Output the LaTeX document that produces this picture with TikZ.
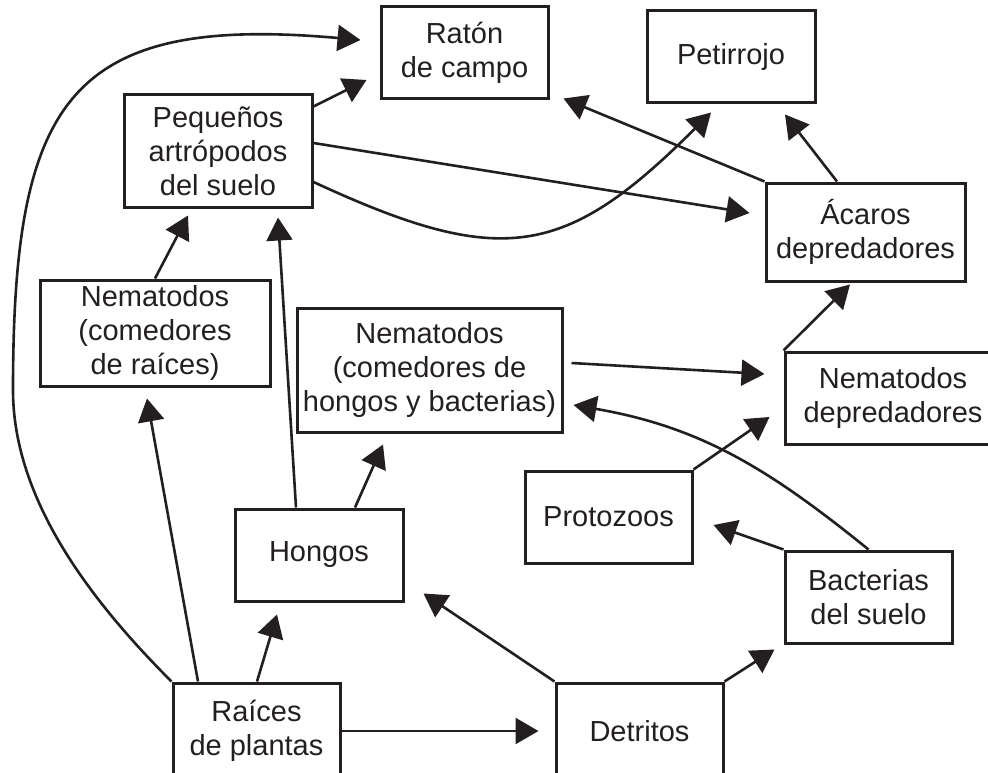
\documentclass[tikz,border=0pt]{standalone}
\usepackage{fontspec}
\setmainfont{Liberation Sans}
\usetikzlibrary{arrows.meta}
\definecolor{inkgray}{RGB}{35,31,32}

\begin{document}
\begin{tikzpicture}[
    x=1pt, y=-1pt,
    box/.style={rectangle, draw=inkgray, line width=3pt, align=center, inner sep=1pt, text=inkgray, font=\fontsize{29}{34}\selectfont},
    arrow/.style={-{Triangle[length=23pt,width=26pt]}, draw=inkgray, line width=2.6pt}
]
    \useasboundingbox (0,0) rectangle (988,773);
    \clip (0,0) rectangle (988,773);
    \node[box, minimum width=167pt, minimum height=92pt] (raton) at (464.5,53) {Ratón\\de campo};
    \node[box, minimum width=168pt, minimum height=92pt] (petir) at (731,57) {Petirrojo};
    \node[box, minimum width=188pt, minimum height=112pt] (pequenos) at (218,151) {Pequeños\\artrópodos\\del suelo};
    \node[box, minimum width=230pt, minimum height=106pt] (nemraiz) at (155,333) {Nematodos\\(comedores\\de raíces)};
    \node[box, minimum width=265pt, minimum height=124pt] (nemhong) at (429.5,370) {Nematodos\\(comedores de\\hongos y bacterias)};
    \node[box, minimum width=199pt, minimum height=98pt] (acaros) at (865.5,232) {Ácaros\\depredadores};
    \node[box, minimum width=216pt, minimum height=92pt] (nemdep) at (893,398) {Nematodos\\depredadores};
    \node[box, minimum width=168pt, minimum height=92pt] (hongos) at (319,555) {Hongos};
    \node[box, minimum width=167pt, minimum height=92pt] (protoz) at (608.5,517) {Protozoos};
    \node[box, minimum width=167pt, minimum height=92pt] (bact) at (868.5,597) {Bacterias\\del suelo};
    \node[box, minimum width=167pt, minimum height=96pt] (raices) at (256.5,731) {Raíces\\de plantas};
    \node[box, minimum width=167pt, minimum height=96pt] (detritos) at (639.5,731) {Detritos};
    % from the roots
    \draw[arrow] (raices.north west) .. controls +(-80,-80) and +(0,110) .. (13,390)
        .. controls +(0,-290) and +(-292,-26) .. ([xshift=-19pt,yshift=13pt]raton.west);
    \draw[arrow] ([xshift=-58.5pt]raices.north) -- ([xshift=-8pt,yshift=-11pt]nemraiz.south);
    \draw[arrow] ([xshift=0.5pt]raices.north) -- ([xshift=-42pt,yshift=-12pt]hongos.south);
    \draw[arrow] (raices.east) -- ([xshift=-16pt]detritos.west);
    % from the detritus
    \draw[arrow] (detritos.north west) -- ([xshift=19pt,yshift=9pt]hongos.south east);
    \draw[arrow] (detritos.north east) -- ([xshift=-9pt,yshift=-5pt]bact.south west);
    % bacteria and protozoa
    \draw[arrow] (bact.north) .. controls +(-100,-81) and +(127,22) .. ([xshift=10pt,yshift=-35pt]nemhong.east);
    \draw[arrow] (bact.north west) -- ([xshift=20pt,yshift=-8pt]protoz.east);
    \draw[arrow] (protoz.north east) -- ([xshift=-14pt,yshift=-19pt]nemdep.west);
    % fungi
    \draw[arrow] ([xshift=-23pt]hongos.north) -- ([xshift=60pt,yshift=-9pt]pequenos.south);
    \draw[arrow] ([xshift=36pt]hongos.north) -- ([xshift=-46.5pt,yshift=-11pt]nemhong.south);
    \draw[arrow] (nemraiz.north) -- ([xshift=-30pt,yshift=-7pt]pequenos.south);
    % arthropods
    \draw[arrow] ([yshift=-13pt]pequenos.north east) -- ([xshift=-13pt,yshift=-27pt]raton.west);
    \draw[arrow] ([yshift=8pt]pequenos.east) -- ([xshift=-15pt,yshift=19pt]acaros.west);
    \draw[arrow] ([yshift=-31pt]pequenos.east) .. controls +(188,87) and +(-146,146) .. ([xshift=-20pt,yshift=-8pt]petir.south);
    % mites and nematodes
    \draw[arrow] (acaros.north west) -- ([xshift=14pt,yshift=2pt]raton.south east);
    \draw[arrow] ([xshift=-28.5pt]acaros.north) -- ([xshift=54pt,yshift=-10pt]petir.south);
    \draw[arrow] (nemdep.north west) -- ([xshift=-15.5pt,yshift=-2pt]acaros.south);
    \draw[arrow] ([xshift=8pt,yshift=7pt]nemhong.east) -- ([xshift=-19pt,yshift=24pt]nemdep.west);
\end{tikzpicture}
\end{document}
